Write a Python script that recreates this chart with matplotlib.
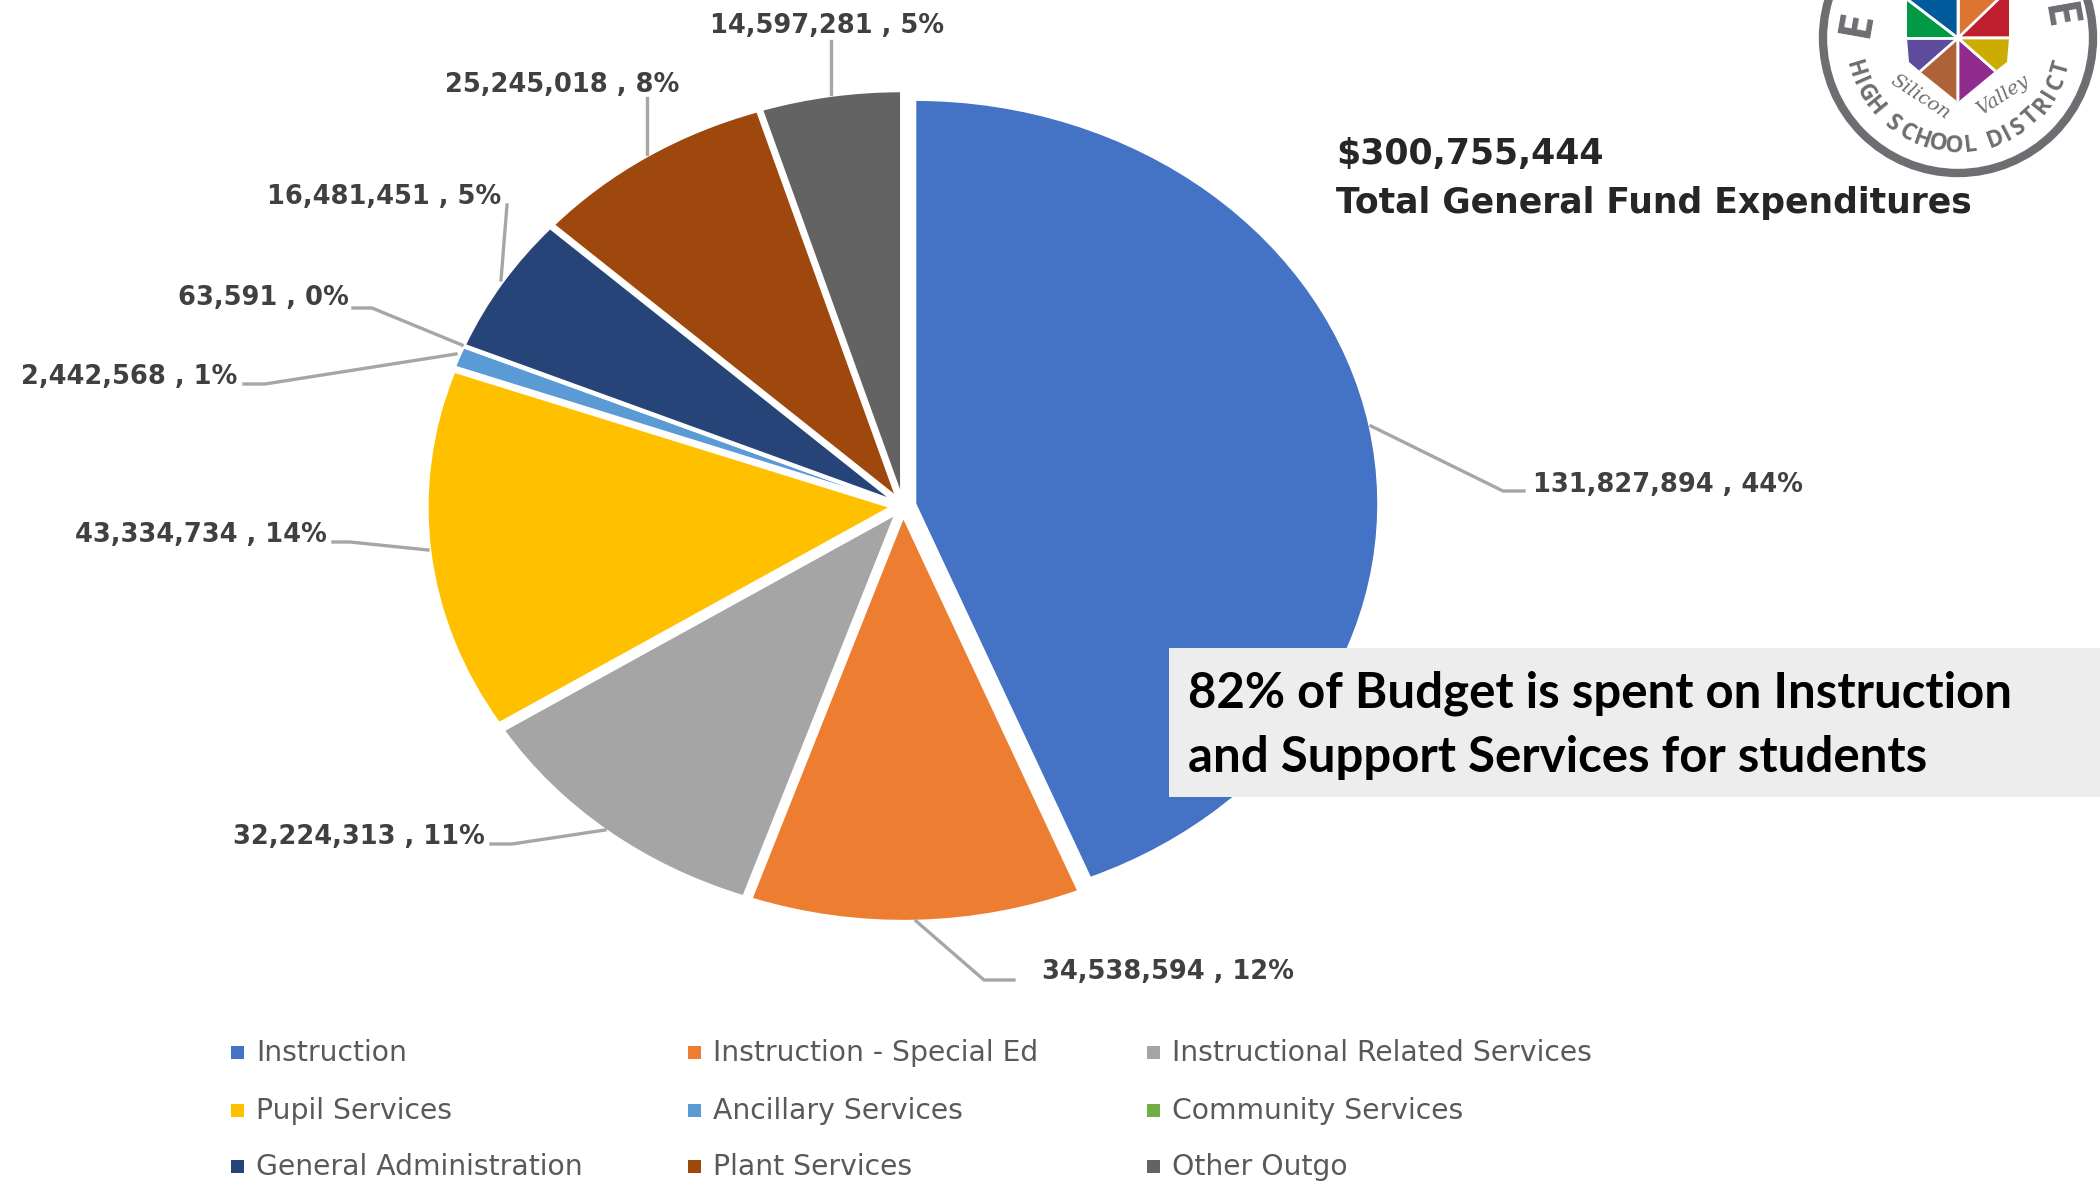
import numpy as np
import matplotlib
matplotlib.use('Agg')
import matplotlib.pyplot as plt
from matplotlib.patches import Rectangle, Circle, Polygon, PathPatch
from matplotlib.path import Path

categories = ['Instruction', 'Instruction - Special Ed', 'Instructional Related Services',
              'Pupil Services', 'Ancillary Services', 'Community Services',
              'General Administration', 'Plant Services', 'Other Outgo']
values = [131827894, 34538594, 32224313, 43334734, 2442568, 63591, 16481451, 25245018, 14597281]
percents = [44, 12, 11, 14, 1, 0, 5, 8, 5]
colors = ['#4472C4', '#ED7D31', '#A5A5A5', '#FFC000', '#5B9BD5', '#70AD47', '#264478', '#9E480E', '#636363']
total_text = '$300,755,444'
total_caption = 'Total General Fund Expenditures'
note_lines = ['82% of Budget is spent on Instruction', 'and Support Services for students']

W, H = 2100, 1188
cx, cy, rx, ry = 903, 506, 463, 404

fig = plt.figure(figsize=(W / 100, H / 100), dpi=100, facecolor='white')

# pie axes: radius 1 spans rx by ry pixels, so the pie comes out as a wide ellipse
ax = fig.add_axes([0, 0, 1, 1])
ax.pie(values, colors=colors, startangle=90, counterclock=False,
       explode=[0.027] * len(values),
       wedgeprops={'edgecolor': 'white', 'linewidth': 1.5})
ax.set_aspect('auto')
ax.set_xlim(-cx / rx, (W - cx) / rx)
ax.set_ylim((cy - H) / ry, cy / ry)
ax.axis('off')

# everything else goes on a pixel-coordinate overlay
ov = fig.add_axes([0, 0, 1, 1], zorder=5)
ov.set_xlim(0, W)
ov.set_ylim(H, 0)
ov.axis('off')
ov.patch.set_alpha(0)

label_pos = [(1533, 485, 'left'), (1042, 972, 'left'), (485, 837, 'right'),
             (327, 535, 'right'), (237, 377, 'right'), (349, 298, 'right'),
             (501, 197, 'right'), (679, 85, 'right'), (944, 26, 'right')]
leaders = [[(1524, 491), (1503, 491), (1371, 426)],
           [(1014, 980), (984, 980), (916, 921)],
           [(491, 844), (512, 844), (605, 830)],
           [(333, 542), (350, 542), (428, 550)],
           [(244, 384), (265, 384), (456, 354)],
           [(353, 308), (372, 308), (462, 345)],
           [(507, 205), (501, 280)],
           [(647, 98), (647, 154)],
           [(831, 41), (831, 94)]]

for v, p, (x, y, ha), line in zip(values, percents, label_pos, leaders):
    ov.text(x, y, f'{v:,} , {p}%', ha=ha, va='center', fontsize=18.5,
            fontweight='bold', family='DejaVu Sans', color='#404040')
    xs, ys = zip(*line)
    ov.plot(xs, ys, color='#A6A6A6', lw=2.4)

# legend, three columns by three rows
col_x = [237, 694, 1153]
row_y = [1052, 1110, 1166]
for i, (name, c) in enumerate(zip(categories, colors)):
    x = col_x[i % 3]
    y = row_y[i // 3]
    ov.add_patch(Rectangle((x - 6.5, y - 6.5), 13, 13, color=c, lw=0))
    ov.text(x + 19, y + 1, name, va='center', ha='left', fontsize=20.3,
            family='DejaVu Sans', color='#595959')

# headline figures
ov.text(1336, 154, total_text, fontsize=25, fontweight='bold', family='DejaVu Sans',
        color='#262626', va='center')
ov.text(1336, 203, total_caption, fontsize=24.9, fontweight='bold', family='DejaVu Sans',
        color='#262626', va='center')

# callout box
ov.add_patch(Rectangle((1169, 648), W - 1169, 149, color='#EDEDED', lw=0))
ov.text(1188, 693, note_lines[0], fontsize=35.4, fontweight='bold', family='Lato',
        color='black', va='center')
ov.text(1188, 757, note_lines[1], fontsize=35.4, fontweight='bold', family='Lato',
        color='black', va='center')

# district seal in the corner
lx, ly = 1958, 38
seal_grey = '#6D6E71'
ov.add_patch(Circle((lx, ly), 135, facecolor='white', edgecolor=seal_grey, lw=6))

shield = Path([(1907, -20), (2009, -20), (2009, 38), (2007, 62), (1993, 73), (1958, 102),
               (1922, 73), (1909, 62), (1907, 38), (1907, -20)])
shield_clip = PathPatch(shield, transform=ov.transData, facecolor='none', edgecolor='none')
ov.add_patch(shield_clip)
sectors = [('#009A44', [(1907, 38), (1890, 38), (1890, -14)]),
           ('#005A9C', [(1890, -14), (1958, -14)]),
           ('#DD7430', [(1958, -14), (2012, -14)]),
           ('#BE1E2D', [(2012, -14), (2020, -14), (2020, 38)]),
           ('#5F4B9E', [(1890, 38), (1890, 98)]),
           ('#AD6238', [(1890, 98), (1958, 120)]),
           ('#922B8E', [(1958, 120), (2026, 98)]),
           ('#CCAC00', [(2026, 98), (2026, 38)])]
for c, pts in sectors:
    sector = Polygon([(lx, ly)] + pts, facecolor=c, edgecolor='white', lw=2)
    ov.add_patch(sector)
    sector.set_clip_path(shield_clip)

# curved lettering, one glyph at a time, narrow glyphs take less of the arc
arc_text = 'HIGH SCHOOL DISTRICT'
weights = np.array([0.55 if ch in ' I' else 1.0 for ch in arc_text])
steps = np.cumsum(weights) - weights / 2
angles = -73 + 147 * (steps - steps[0]) / (steps[-1] - steps[0])
for ch, a in zip(arc_text, angles):
    t = np.deg2rad(a)
    ov.text(lx + 108 * np.sin(t), ly + 108 * np.cos(t), ch, rotation=a, ha='center', va='center',
            rotation_mode='anchor', fontsize=16.5, fontweight='bold', family='Open Sans', color=seal_grey)
for ch, a, x, y in [('E', 80, 1857, 23), ('E', -80, 2057, 17)]:
    ov.text(x, y, ch, rotation=a, ha='center', va='center', rotation_mode='anchor',
            fontsize=33, fontweight='bold', family='Open Sans', color=seal_grey)
ov.text(1920, 97, 'Silicon', rotation=-33, ha='center', va='center', rotation_mode='anchor',
        fontsize=14, style='italic', family='DejaVu Serif', color=seal_grey)
ov.text(2003, 95, 'Valley', rotation=33, ha='center', va='center', rotation_mode='anchor',
        fontsize=14, style='italic', family='DejaVu Serif', color=seal_grey)

fig.savefig('out.png', dpi=100, facecolor='white')
